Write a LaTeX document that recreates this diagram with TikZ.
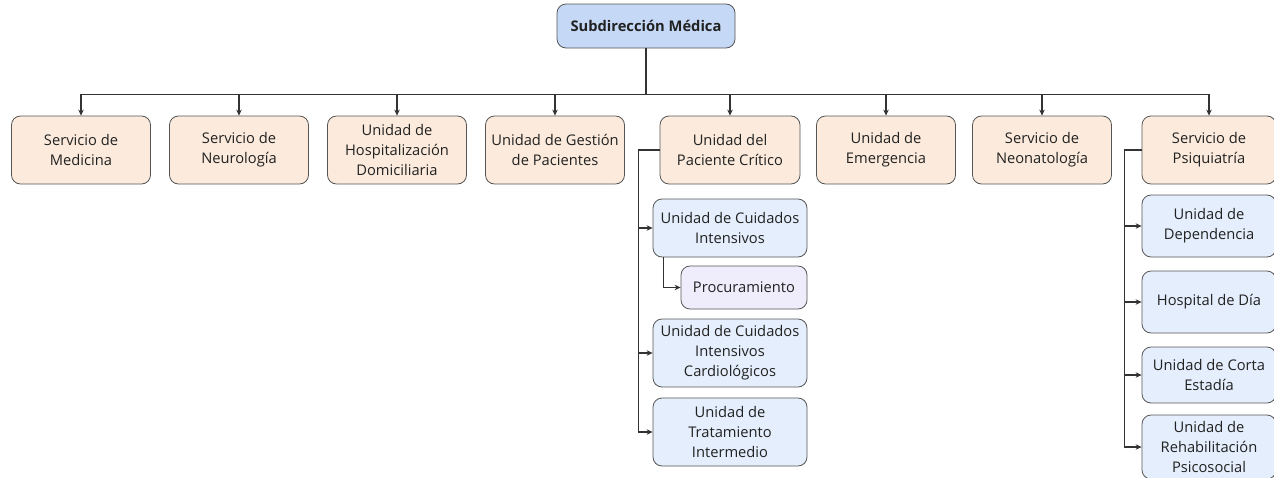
\documentclass[tikz,border=0pt]{standalone}
\usepackage{fontspec}
\setmainfont{Open Sans}
\usetikzlibrary{arrows.meta}

\definecolor{topfill}{HTML}{C5D8F6}
\definecolor{servfill}{HTML}{FCEBDC}
\definecolor{unitfill}{HTML}{E4EEFC}
\definecolor{procfill}{HTML}{EFEDFB}
\definecolor{boxline}{HTML}{555555}
\definecolor{linecol}{HTML}{333333}
\definecolor{textcol}{HTML}{222222}

\begin{document}
\begin{tikzpicture}[x=1pt, y=-1pt, thick,
		box/.style={draw=boxline, line width=0.8pt, rounded corners=9pt, align=center, text=textcol, inner sep=2pt, font=\fontsize{14.7}{20}\selectfont},
		serv/.style={box, fill=servfill, minimum width=139, minimum height=68},
		unit/.style={box, fill=unitfill, minimum width=154},
		psunit/.style={box, fill=unitfill, minimum width=134},
		link/.style={draw=linecol, line width=1.1pt, -{Stealth[length=6pt,width=5.5pt]}},
		bus/.style={draw=linecol, line width=1.1pt}
	]
		\useasboundingbox (0,0) rectangle (1274,477);

		\node[box, fill=topfill, minimum width=178, minimum height=44, font=\fontsize{14.7}{20}\selectfont\bfseries] (sub) at (646,26) {Subdirección Médica};

		% primera fila
		\node[serv] (med) at (81,150) {Servicio de\\Medicina};
		\node[serv] (neu) at (239,150) {Servicio de\\Neurología};
		\node[serv] (hosp) at (397,150) {Unidad de\\Hospitalización\\Domiciliaria};
		\node[serv] (gest) at (555,150) {Unidad de Gestión\\de Pacientes};
		\node[serv, minimum width=140] (crit) at (730,150) {Unidad del\\Paciente Crítico};
		\node[serv] (emer) at (886,150) {Unidad de\\Emergencia};
		\node[serv] (neo) at (1042,150) {Servicio de\\Neonatología};
		\node[serv, minimum width=134] (psiq) at (1209,150) {Servicio de\\Psiquiatría};

		% paciente critico
		\node[unit, minimum height=58] (uci) at (730,228) {Unidad de Cuidados\\Intensivos};
		\node[box, fill=procfill, minimum width=126, minimum height=43] (proc) at (744,287.5) {Procuramiento};
		\node[unit, minimum height=68] (ucic) at (730,353) {Unidad de Cuidados\\Intensivos\\Cardiológicos};
		\node[unit, minimum height=68] (trat) at (730,432) {Unidad de\\Tratamiento\\Intermedio};

		% psiquiatria
		\node[psunit, minimum height=62] (dep) at (1209,226) {Unidad de\\Dependencia};
		\node[psunit, minimum height=62] (dia) at (1209,302) {Hospital de Día};
		\node[psunit, minimum height=56] (corta) at (1209,375) {Unidad de Corta\\Estadía};
		\node[psunit, minimum height=64] (rehab) at (1209,447) {Unidad de\\Rehabilitación\\Psicosocial};

		\draw[bus] (sub.south) -- ++(0,46) coordinate (top);
		\draw[bus] (med.north |- top) -- (psiq.north |- top);
		\foreach \n in {med,neu,hosp,gest,crit,emer,neo,psiq}
			\draw[link] (\n.north |- top) -- (\n.north);

		\draw[link] (crit.west) -| ([xshift=-14]uci.west) -- (uci.west); % uci
		\draw[link] (crit.west) -| ([xshift=-14]ucic.west) -- (ucic.west); % cardio
		\draw[link] (crit.west) -| ([xshift=-14]trat.west) -- (trat.west); % intermedio
		\draw[link] ([xshift=11]uci.south west) |- (proc.west); % procuramiento

		\draw[link] (psiq.west) -| ([xshift=-17]dep.west) -- (dep.west); % dependencia
		\draw[link] (psiq.west) -| ([xshift=-17]dia.west) -- (dia.west); % dia
		\draw[link] (psiq.west) -| ([xshift=-17]corta.west) -- (corta.west); % corta
		\draw[link] (psiq.west) -| ([xshift=-17]rehab.west) -- (rehab.west); % rehab
\end{tikzpicture}
\end{document}
